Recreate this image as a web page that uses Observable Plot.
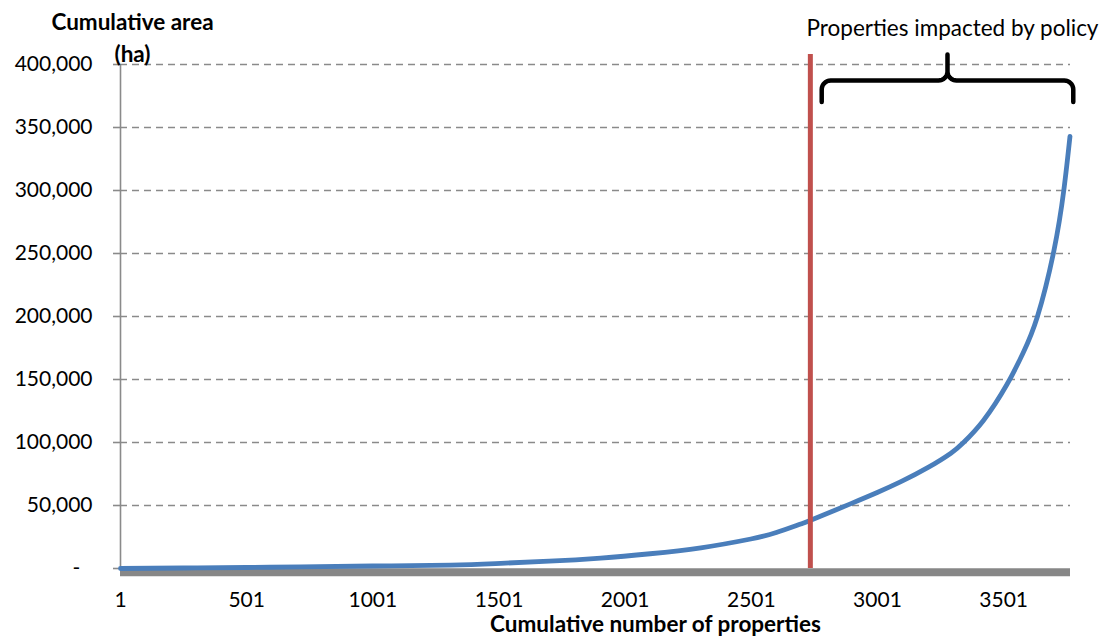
<!DOCTYPE html>
<html>
<head>
<meta charset="utf-8">
<script src="https://cdn.jsdelivr.net/npm/d3@7"></script>
<script src="https://cdn.jsdelivr.net/npm/@observablehq/plot@0.6"></script>
<style>
  html, body { margin: 0; padding: 0; background: #fff; }
  #chart svg { display: block; }
</style>
</head>
<body>
<div id="chart"></div>
<script>
// ---- Data ----
const propertyCount = [1, 250, 500, 715, 1000, 1309, 1508, 1700, 1904, 2100, 2301, 2499, 2600, 2697, 2741, 2896, 3000, 3094, 3200, 3292, 3342, 3421, 3514, 3578, 3635, 3700, 3740, 3764];
const cumulativeArea = [0, 400, 800, 1300, 2000, 2700, 4100, 5800, 8300, 11700, 16400, 23400, 28500, 35300, 38700, 51500, 60300, 68900, 80000, 91500, 100000, 117500, 146000, 171000, 200000, 252000, 301000, 343000];

const xTicks = [1, 501, 1001, 1501, 2001, 2501, 3001, 3501];
const yTicks = [0, 50000, 100000, 150000, 200000, 250000, 300000, 350000, 400000];

const policyThreshold = 2735;          // properties left of this are not impacted
const yAxisTitle = "Cumulative area\n(ha)";
const xAxisTitle = "Cumulative number of properties";
const braceLabel = "Properties impacted by policy";

// ---- Layout ----
const W = 1101, H = 636, ML = 120, MR = 31, MT = 64, MB = 68;
const xDomain = [1, 3766], yDomain = [0, 400000];
const kx = (W - ML - MR) / (xDomain[1] - xDomain[0]);
const ky = (H - MT - MB) / (yDomain[1] - yDomain[0]);
const toData = ([px, py]) => ({x: xDomain[0] + (px - ML) / kx, y: (H - MB - py) / ky});
const toPx = (x, y) => [ML + (x - xDomain[0]) * kx, H - MB - y * ky];

// brace annotation over the impacted range, built in pixel offsets then mapped to data
function bracePoints() {
  const [x0] = toPx(policyThreshold + 45, 0);
  const [x1] = toPx(propertyCount[propertyCount.length - 1] + 13, 0);
  const xm = (x0 + x1) / 2;
  const yB = 101.5, yH = 80, yT = 54, r = 9;
  const pts = [];
  const arc = (cx, cy, a0, a1) => {
    for (let i = 0; i <= 8; i++) {
      const a = (a0 + (a1 - a0) * i / 8) * Math.PI / 180;
      pts.push([cx + r * Math.cos(a), cy + r * Math.sin(a)]);
    }
  };
  pts.push([x0, yB]);
  arc(x0 + r, yH + r, 180, 270);
  arc(xm - r, yH - r, 90, 0);
  pts.push([xm, yT]);
  arc(xm + r, yH - r, 180, 90);
  arc(x1 - r, yH + r, 270, 360);
  pts.push([x1, yB]);
  return pts.map(toData);
}

const fmt = d3.format(",");
const chart = Plot.plot({
  width: W, height: H,
  marginLeft: ML, marginRight: MR, marginTop: MT, marginBottom: MB,
  style: {fontFamily: "Lato, 'Open Sans', sans-serif", fontSize: "21px", color: "black", background: "white", overflow: "visible"},
  x: {domain: xDomain},
  y: {domain: yDomain},
  marks: [
    Plot.gridY(yTicks.filter(d => d > 0), {stroke: "#8a8a8a", strokeOpacity: 1, strokeWidth: 1.6, strokeDasharray: "7,5"}),
    Plot.ruleX([xDomain[0]], {y1: yDomain[0], y2: yDomain[1], stroke: "#8a8a8a", strokeWidth: 1.6}),
    Plot.axisY(yTicks, {tickSize: 7, tickPadding: 21, stroke: "#8a8a8a", strokeWidth: 1.6, fill: "black", fontSize: 21,
      tickFormat: d => d === 0 ? "-\u2007" : fmt(d), label: null}),
    Plot.axisX(xTicks, {tickSize: 0, tickPadding: 24, fill: "black", fontSize: 21, tickFormat: d => String(d), label: null}),
    Plot.ruleY([0], {x1: xDomain[0], x2: xDomain[1], dy: 3.8, stroke: "#878787", strokeWidth: 8}),
    Plot.line(cumulativeArea, {x: propertyCount, y: cumulativeArea, stroke: "#4A7EBB", strokeWidth: 4.8, curve: "natural"}),
    Plot.ruleX([policyThreshold], {y1: 0, y2: 408000, stroke: "#C0504D", strokeWidth: 5}),
    Plot.line(bracePoints(), {x: "x", y: "y", stroke: "black", strokeWidth: 4.5, strokeLinejoin: "round", curve: "linear"}),
    Plot.text([yAxisTitle], {frameAnchor: "top-left", dx: 12, dy: -29, lineAnchor: "middle", textAnchor: "middle",
      fontWeight: "bold", fontSize: 22.5, lineHeight: 1.42, fill: "black"}),
    Plot.text([braceLabel], {frameAnchor: "top-right", dx: -118, dy: -36, lineAnchor: "middle", textAnchor: "middle",
      fontSize: 22.5, fill: "black"}),
    Plot.text([xAxisTitle], {frameAnchor: "bottom", dx: 60, dy: 56, lineAnchor: "middle", textAnchor: "middle",
      fontWeight: "bold", fontSize: 22.5, fill: "black"})
  ]
});
document.getElementById("chart").appendChild(chart);
</script>
</body>
</html>
